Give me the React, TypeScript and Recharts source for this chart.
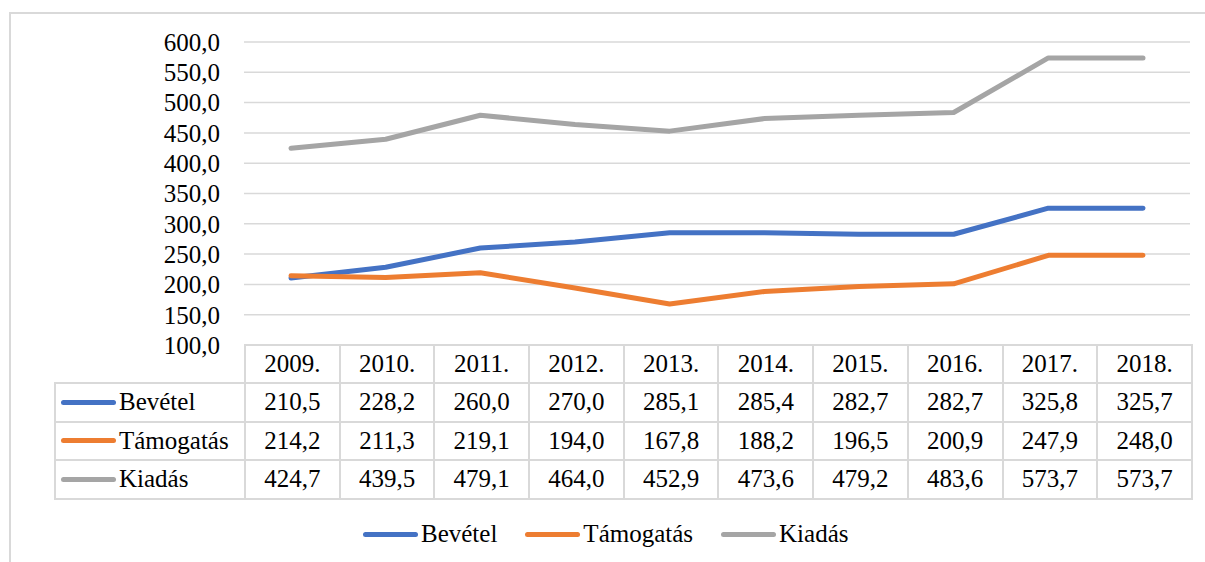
import React from "react"
import { LineChart, Line, XAxis, YAxis, CartesianGrid } from "recharts"

const years = ["2009.", "2010.", "2011.", "2012.", "2013.", "2014.", "2015.", "2016.", "2017.", "2018."]
const bevetel = [210.5, 228.2, 260.0, 270.0, 285.1, 285.4, 282.7, 282.7, 325.8, 325.7]
const tamogatas = [214.2, 211.3, 219.1, 194.0, 167.8, 188.2, 196.5, 200.9, 247.9, 248.0]
const kiadas = [424.7, 439.5, 479.1, 464.0, 452.9, 473.6, 479.2, 483.6, 573.7, 573.7]
const yTicks = [100, 150, 200, 250, 300, 350, 400, 450, 500, 550, 600]

const series = [
  { key: "bevetel", name: "Bevétel", color: "#4472C4", values: bevetel },
  { key: "tamogatas", name: "Támogatás", color: "#ED7D31", values: tamogatas },
  { key: "kiadas", name: "Kiadás", color: "#A5A5A5", values: kiadas },
]

const data = years.map((year, i) => ({
  year,
  bevetel: bevetel[i],
  tamogatas: tamogatas[i],
  kiadas: kiadas[i],
}))

const fmt = (v: number) => v.toFixed(1).replace(".", ",")

const FONT = '"Liberation Serif", "Times New Roman", Times, Tinos, "DejaVu Serif", serif'
const GRID = "#d9d9d9"

const cell: React.CSSProperties = {
  border: `2px solid ${GRID}`,
  padding: 0,
  textAlign: "center",
  fontSize: 25,
  color: "#000",
  fontFamily: FONT,
}

const Key = ({ color }: { color: string }) => (
  <span
    style={{
      display: "inline-block",
      width: 55,
      height: 5,
      borderRadius: 3,
      background: color,
      marginRight: 3,
    }}
  />
)

export default function App() {
  return (
    <div
      style={{
        position: "absolute",
        left: 0,
        top: 0,
        width: 1205,
        height: 562,
        overflow: "hidden",
        background: "#fff",
        fontFamily: FONT,
      }}
    >
      <div
        style={{
          position: "absolute",
          left: 9,
          top: 12,
          width: 1400,
          height: 800,
          border: `2px solid ${GRID}`,
        }}
      />
      <div style={{ position: "absolute", left: 0, top: 0 }}>
        <LineChart
          width={1205}
          height={562}
          data={data}
          margin={{ top: 42, right: 15, bottom: 217, left: 164 }}
        >
          <CartesianGrid vertical={false} stroke={GRID} strokeWidth={1.5} />
          <XAxis dataKey="year" hide padding={{ left: 47, right: 47 }} />
          <YAxis
            width={80}
            domain={[100, 600]}
            ticks={yTicks}
            interval={0}
            axisLine={false}
            tickLine={false}
            tickSize={0}
            tickMargin={24}
            tickFormatter={fmt}
            tick={{ fill: "#000", fontSize: 25, fontFamily: FONT }}
          />
          {series.map((s) => (
            <Line
              key={s.key}
              dataKey={s.key}
              name={s.name}
              stroke={s.color}
              strokeWidth={5}
              strokeLinecap="round"
              strokeLinejoin="round"
              dot={false}
              activeDot={false}
              isAnimationActive={false}
            />
          ))}
        </LineChart>
      </div>

      <table
        style={{
          position: "absolute",
          left: 54,
          top: 344,
          borderCollapse: "collapse",
          tableLayout: "fixed",
          width: 1137,
          fontFamily: FONT,
        }}
      >
        <colgroup>
          <col style={{ width: 190 }} />
          {years.map((y) => (
            <col key={y} style={{ width: 94.7 }} />
          ))}
        </colgroup>
        <tbody>
          <tr style={{ height: 38 }}>
            <td style={{ ...cell, border: "none" }} />
            {years.map((y) => (
              <td key={y} style={cell}>
                {y}
              </td>
            ))}
          </tr>
          {series.map((s) => (
            <tr key={s.key} style={{ height: 38.5 }}>
              <td style={{ ...cell, textAlign: "left", whiteSpace: "nowrap" }}>
                <span style={{ display: "flex", alignItems: "center", paddingLeft: 5 }}>
                  <Key color={s.color} />
                  {s.name}
                </span>
              </td>
              {s.values.map((v, i) => (
                <td key={i} style={cell}>
                  {fmt(v)}
                </td>
              ))}
            </tr>
          ))}
        </tbody>
      </table>

      <div
        style={{
          position: "absolute",
          left: 363,
          top: 517,
          display: "flex",
          alignItems: "center",
          fontSize: 25,
          color: "#000",
          lineHeight: "34px",
        }}
      >
        {series.map((s) => (
          <span key={s.key} style={{ display: "flex", alignItems: "center", marginRight: 28 }}>
            <Key color={s.color} />
            {s.name}
          </span>
        ))}
      </div>
    </div>
  )
}
